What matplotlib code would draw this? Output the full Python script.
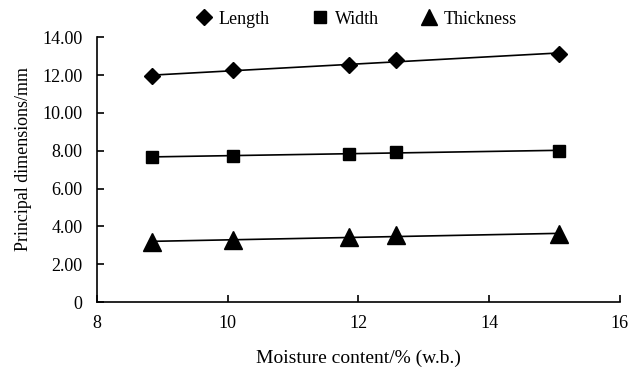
import numpy as np
import matplotlib.pyplot as plt

plt.rcParams['font.family'] = ['Liberation Serif', 'DejaVu Serif']

# Moisture content (% w.b.) and measured dimensions (mm)
moisture = [8.84, 10.08, 11.86, 12.57, 15.07]
length = [11.95, 12.25, 12.55, 12.78, 13.12]
width = [7.66, 7.74, 7.84, 7.92, 8.00]
thickness = [3.18, 3.29, 3.43, 3.52, 3.59]

series = [
    ("Length", length, "D", 8.6),
    ("Width", width, "s", 8),
    ("Thickness", thickness, "^", 13),
]

fig = plt.figure(figsize=(6.3, 3.72), dpi=100)
ax = fig.add_axes([0.154, 0.188, 0.83, 0.712])

x = np.array(moisture)
for name, vals, marker, ms in series:
    ax.plot(x, vals, linestyle="none", marker=marker, color="black",
            markersize=ms, label=name)
    # linear trend line through each series
    k, b = np.polyfit(x, vals, 1)
    ax.plot(x, k * x + b, color="black", linewidth=1.2)

ax.set_xlim(8, 16)
ax.set_ylim(0, 14)
ax.set_xticks([8, 10, 12, 14, 16])
ax.set_yticks(np.arange(0, 15, 2))
ax.set_yticklabels(["0"] + ["%.2f" % v for v in np.arange(2, 15, 2)])
ax.tick_params(direction="in", length=5, width=1.2, labelsize=13)
ax.tick_params(axis="y", pad=10.5)
ax.tick_params(axis="x", pad=9)

for side in ["top", "right"]:
    ax.spines[side].set_visible(False)
for side in ["left", "bottom"]:
    ax.spines[side].set_linewidth(1.2)

ax.set_xlabel("Moisture content/% (w.b.)", fontsize=14, labelpad=13)
ax.set_ylabel("Principal dimensions/mm", fontsize=13, labelpad=8)
ax.yaxis.set_label_coords(-0.125, 0.54)

leg = ax.legend(loc="lower center", bbox_to_anchor=(0.495, 0.975), ncol=3, frameon=False,
                fontsize=13, handletextpad=0.3, columnspacing=2.3, handlelength=1.0)
for h, ms in zip(leg.legend_handles, [8.3, 8, 11]):
    h.set_markersize(ms)

fig.savefig("out.png", dpi=100)
